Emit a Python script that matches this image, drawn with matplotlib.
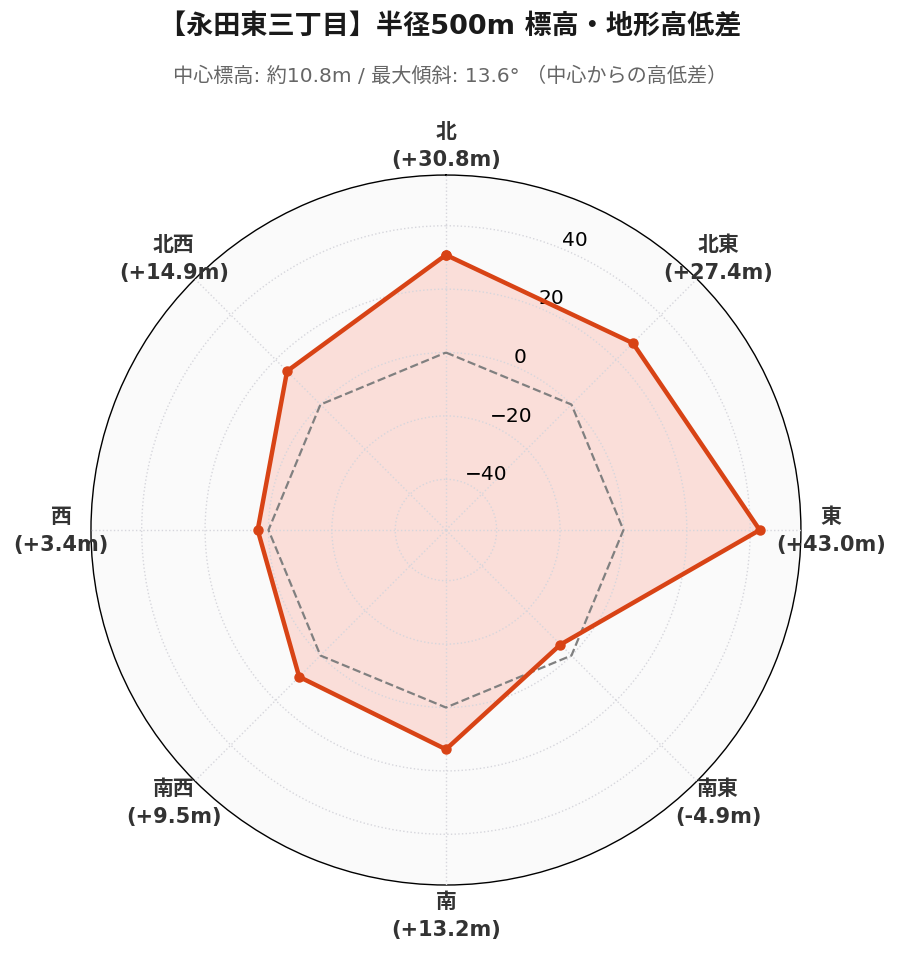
import numpy as np
import matplotlib.pyplot as plt

plt.rcParams['font.family'] = ['DejaVu Sans', 'Noto Sans CJK JP']

directions = ['北', '北東', '東', '南東', '南', '南西', '西', '北西']
diffs = [30.8, 27.4, 43.0, -4.9, 13.2, 9.5, 3.4, 14.9]
r_ticks = [-40, -20, 0, 20, 40]

title = '【永田東三丁目】半径500m 標高・地形高低差'
subtitle = '中心標高: 約10.8m / 最大傾斜: 13.6° （中心からの高低差）'

n = len(directions)
theta = np.linspace(0, 2 * np.pi, n, endpoint=False)
theta_c = np.append(theta, theta[0])
vals = np.append(diffs, diffs[0])
zero = np.zeros(n + 1)

fig = plt.figure(figsize=(9, 9.62), dpi=100)
ax = fig.add_axes([0.101, 0.079, 0.789, 0.738], projection='polar')
ax.set_theta_offset(np.pi / 2)
ax.set_theta_direction(-1)
ax.set_facecolor('#fafafa')
ax.set_axisbelow(False)

ax.fill(theta_c, vals, color='#ff6347', alpha=0.18, zorder=1)
ax.plot(theta_c, zero, color='gray', linestyle='--', linewidth=1.6, zorder=3)
ax.plot(theta_c, vals, color='#d84315', linewidth=3.2, marker='o', markersize=6.5, zorder=4)

ax.set_ylim(-56, 56)
ax.set_yticks(r_ticks)
ax.set_yticklabels([str(t).replace('-', '\u2212') for t in r_ticks], fontsize=14.5)
ax.set_rlabel_position(22.5)

ax.set_xticks(theta)
labels = [f'{d}\n({v:+.1f}m)' for d, v in zip(directions, diffs)]
ax.set_xticklabels(labels, fontsize=15, fontweight='bold', color='#333333', linespacing=1.5)
ax.tick_params(axis='x', pad=11)

ax.grid(True, color='#d6d6dc', linestyle=':', linewidth=1.0)
ax.spines['polar'].set_color('black')
ax.spines['polar'].set_linewidth(1.0)

fig.text(0.5, 0.972, title, ha='center', va='center', fontsize=19.5, fontweight='bold', color='#1a1a1a')
fig.text(0.5, 0.921, subtitle, ha='center', va='center', fontsize=14.5, color='#666666')

fig.savefig('out.png', dpi=100, facecolor='white')
